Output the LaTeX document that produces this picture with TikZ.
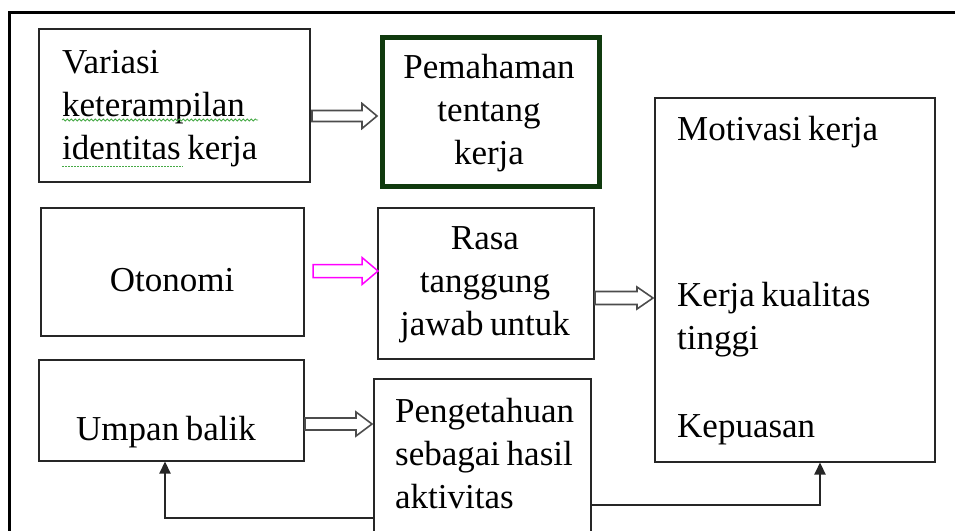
\documentclass[tikz,border=0pt]{standalone}
\usepackage{fontspec}
\setmainfont{Liberation Serif}[WordSpace=0.75]
\usetikzlibrary{arrows.meta,decorations.pathmorphing}
\definecolor{boxgreen}{RGB}{16,58,14}
\definecolor{magarrow}{RGB}{255,0,255}
\definecolor{spellgreen}{RGB}{70,170,70}
\tikzset{
  box/.style={draw=black!85, line width=1.5pt, inner sep=0pt, anchor=north west},
  greenbox/.style={draw=boxgreen, line width=4.5pt, inner sep=0pt, anchor=north west},
  txt/.style={font=\fontsize{35}{43}\selectfont, inner sep=0pt},
  barrow/.style={draw=black!70, fill=white, line width=1.6pt, line join=miter},
  marrow/.style={draw=magarrow, fill=white, line width=1.5pt, line join=miter},
  link/.style={draw=black!85, line width=2.2pt, -{Triangle[length=12pt,width=11pt]}},
  frame/.style={draw=black, line width=3pt},
  wavy/.style={draw=spellgreen, line width=0.8pt, decorate, decoration={snake, amplitude=1pt, segment length=4pt}},
  dotty/.style={draw=spellgreen, line width=1pt, dash pattern=on 1.5pt off 1.5pt}
}
\begin{document}
\begin{tikzpicture}[x=1pt,y=-1pt]
\useasboundingbox (0,0) rectangle (955,530);
\clip (0,0) rectangle (955,530);
% outer frame (top and left edges)
\draw[frame] (9,535) -- (9,12) -- (960,12);

% boxes
\node[box, minimum width=271, minimum height=153] (b1) at (38,28) {};
\node[greenbox, minimum width=217, minimum height=149] (b2) at (380,35) {};
\node[box, minimum width=263, minimum height=128] (b3) at (40,207) {};
\node[box, minimum width=216, minimum height=151] (b4) at (377,207) {};
\node[box, minimum width=280, minimum height=364] (b5) at (654,97) {};
\node[box, minimum width=265, minimum height=101] (b6) at (38,359) {};
\node[box, minimum width=217, minimum height=200] (b7) at (373,378) {};

% texts (base anchor = baseline of last line)
\node[txt, anchor=base west, align=left] (t1) at (62,159) {Variasi\\keterampilan\\identitas kerja};
\node[txt, anchor=base, align=center] (t2) at (489,164) {Pemahaman\\tentang\\kerja};
\node[txt, anchor=base] (t3) at (172,291) {Otonomi};
\node[txt, anchor=base, align=center] (t4) at (485,335) {Rasa\\tanggung\\jawab untuk};
\node[txt, anchor=base west, align=left] (t5) at (677,437) {Motivasi kerja\\[123pt]Kerja kualitas\\tinggi\\[45pt]Kepuasan};
\node[txt, anchor=base] (t6) at (166,440) {Umpan balik};
\node[txt, anchor=base west, align=left] (t7) at (395,508) {Pengetahuan\\sebagai hasil\\aktivitas};

% spell-check underlines
\draw[wavy] (62,120) -- (258,120);
\draw[dotty] (62,166) -- (183,166);

% block arrows
\draw[barrow] (312,110.5) -- (362,110.5) -- (362,103.5) -- (377,116) -- (362,128.5) -- (362,121.5) -- (312,121.5) -- cycle;
\draw[marrow] (313,264.5) -- (362,264.5) -- (362,257.5) -- (378,271) -- (362,284.5) -- (362,277.5) -- (313,277.5) -- cycle;
\draw[barrow] (595,291.5) -- (637,291.5) -- (637,287) -- (653,298) -- (637,309) -- (637,304.5) -- (595,304.5) -- cycle;
\draw[barrow] (305,418) -- (356,418) -- (356,412) -- (372,424) -- (356,436) -- (356,430) -- (305,430) -- cycle;

% feedback connectors
\coordinate (c1) at (165,518);
\coordinate (c2) at (820,505);
\draw[link] (b7.west |- c1) -- (c1) -- (c1 |- b6.south);
\draw[link] (b7.east |- c2) -- (c2) -- (c2 |- b5.south);
\end{tikzpicture}
\end{document}
